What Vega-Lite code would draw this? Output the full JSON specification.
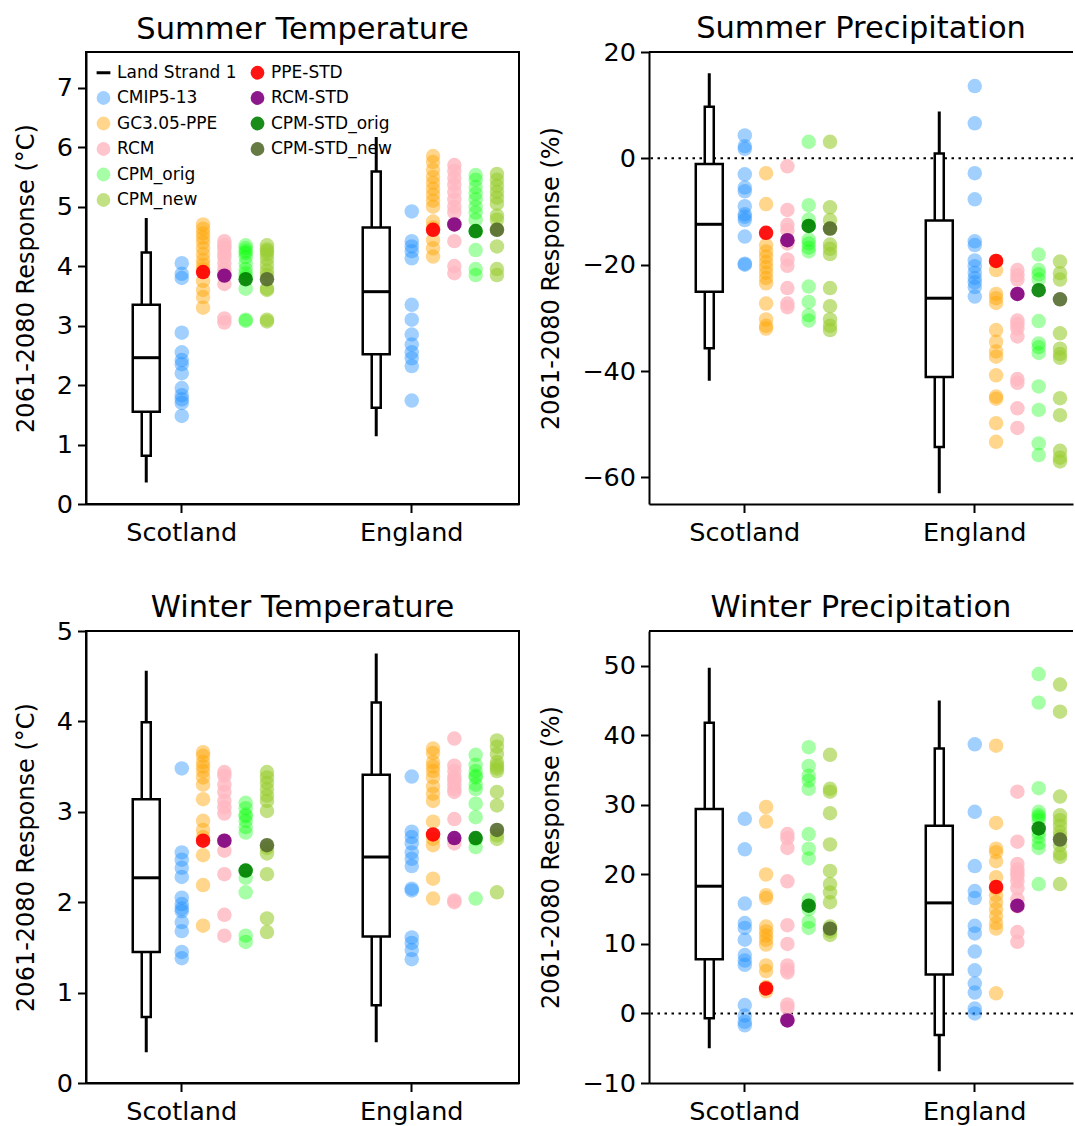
{
"$schema": "https://vega.github.io/schema/vega-lite/v6.json",
"padding": {"left": 13, "top": 13, "right": 0, "bottom": 0},
"datasets": {
"box": [
{"p":"ST","r":"Scotland","c":"Land Strand 1","lo":0.36,"p10":0.81,"q1":1.55,"med":2.46,"q3":3.35,"p90":4.23,"hi":4.81},
{"p":"ST","r":"England","c":"Land Strand 1","lo":1.14,"p10":1.62,"q1":2.52,"med":3.57,"q3":4.65,"p90":5.59,"hi":6.17},
{"p":"SP","r":"Scotland","c":"Land Strand 1","lo":-41.8,"p10":-35.7,"q1":-25.1,"med":-12.4,"q3":-1.07,"p90":9.7,"hi":16.0},
{"p":"SP","r":"England","c":"Land Strand 1","lo":-63.0,"p10":-54.3,"q1":-41.1,"med":-26.3,"q3":-11.7,"p90":0.9,"hi":8.8},
{"p":"WT","r":"Scotland","c":"Land Strand 1","lo":0.34,"p10":0.73,"q1":1.45,"med":2.27,"q3":3.14,"p90":3.99,"hi":4.56},
{"p":"WT","r":"England","c":"Land Strand 1","lo":0.45,"p10":0.86,"q1":1.62,"med":2.50,"q3":3.41,"p90":4.21,"hi":4.75},
{"p":"WP","r":"Scotland","c":"Land Strand 1","lo":-5.0,"p10":-0.7,"q1":7.8,"med":18.3,"q3":29.4,"p90":41.8,"hi":49.7},
{"p":"WP","r":"England","c":"Land Strand 1","lo":-8.3,"p10":-3.1,"q1":5.6,"med":15.9,"q3":27.0,"p90":38.1,"hi":45.0}
],
"pts": [
{"p":"ST","r":"Scotland","s":"CMIP5-13","c":"CMIP5-13","v":4.05},
{"p":"ST","r":"Scotland","s":"CMIP5-13","c":"CMIP5-13","v":3.87},
{"p":"ST","r":"Scotland","s":"CMIP5-13","c":"CMIP5-13","v":3.80},
{"p":"ST","r":"Scotland","s":"CMIP5-13","c":"CMIP5-13","v":2.88},
{"p":"ST","r":"Scotland","s":"CMIP5-13","c":"CMIP5-13","v":2.55},
{"p":"ST","r":"Scotland","s":"CMIP5-13","c":"CMIP5-13","v":2.42},
{"p":"ST","r":"Scotland","s":"CMIP5-13","c":"CMIP5-13","v":2.35},
{"p":"ST","r":"Scotland","s":"CMIP5-13","c":"CMIP5-13","v":2.20},
{"p":"ST","r":"Scotland","s":"CMIP5-13","c":"CMIP5-13","v":1.95},
{"p":"ST","r":"Scotland","s":"CMIP5-13","c":"CMIP5-13","v":1.83},
{"p":"ST","r":"Scotland","s":"CMIP5-13","c":"CMIP5-13","v":1.76},
{"p":"ST","r":"Scotland","s":"CMIP5-13","c":"CMIP5-13","v":1.70},
{"p":"ST","r":"Scotland","s":"CMIP5-13","c":"CMIP5-13","v":1.48},
{"p":"ST","r":"Scotland","s":"GC3.05-PPE","c":"GC3.05-PPE","v":4.70},
{"p":"ST","r":"Scotland","s":"GC3.05-PPE","c":"GC3.05-PPE","v":4.63},
{"p":"ST","r":"Scotland","s":"GC3.05-PPE","c":"GC3.05-PPE","v":4.55},
{"p":"ST","r":"Scotland","s":"GC3.05-PPE","c":"GC3.05-PPE","v":4.48},
{"p":"ST","r":"Scotland","s":"GC3.05-PPE","c":"GC3.05-PPE","v":4.40},
{"p":"ST","r":"Scotland","s":"GC3.05-PPE","c":"GC3.05-PPE","v":4.30},
{"p":"ST","r":"Scotland","s":"GC3.05-PPE","c":"GC3.05-PPE","v":4.20},
{"p":"ST","r":"Scotland","s":"GC3.05-PPE","c":"GC3.05-PPE","v":4.10},
{"p":"ST","r":"Scotland","s":"GC3.05-PPE","c":"GC3.05-PPE","v":4.02},
{"p":"ST","r":"Scotland","s":"GC3.05-PPE","c":"GC3.05-PPE","v":3.95},
{"p":"ST","r":"Scotland","s":"GC3.05-PPE","c":"GC3.05-PPE","v":3.75},
{"p":"ST","r":"Scotland","s":"GC3.05-PPE","c":"GC3.05-PPE","v":3.60},
{"p":"ST","r":"Scotland","s":"GC3.05-PPE","c":"GC3.05-PPE","v":3.48},
{"p":"ST","r":"Scotland","s":"GC3.05-PPE","c":"GC3.05-PPE","v":3.30},
{"p":"ST","r":"Scotland","s":"RCM","c":"RCM","v":4.42},
{"p":"ST","r":"Scotland","s":"RCM","c":"RCM","v":4.35},
{"p":"ST","r":"Scotland","s":"RCM","c":"RCM","v":4.30},
{"p":"ST","r":"Scotland","s":"RCM","c":"RCM","v":4.22},
{"p":"ST","r":"Scotland","s":"RCM","c":"RCM","v":4.15},
{"p":"ST","r":"Scotland","s":"RCM","c":"RCM","v":4.05},
{"p":"ST","r":"Scotland","s":"RCM","c":"RCM","v":3.95},
{"p":"ST","r":"Scotland","s":"RCM","c":"RCM","v":3.88},
{"p":"ST","r":"Scotland","s":"RCM","c":"RCM","v":3.84},
{"p":"ST","r":"Scotland","s":"RCM","c":"RCM","v":3.70},
{"p":"ST","r":"Scotland","s":"RCM","c":"RCM","v":3.12},
{"p":"ST","r":"Scotland","s":"RCM","c":"RCM","v":3.05},
{"p":"ST","r":"Scotland","s":"CPM_orig","c":"CPM_orig","v":4.35},
{"p":"ST","r":"Scotland","s":"CPM_orig","c":"CPM_orig","v":4.30},
{"p":"ST","r":"Scotland","s":"CPM_orig","c":"CPM_orig","v":4.25},
{"p":"ST","r":"Scotland","s":"CPM_orig","c":"CPM_orig","v":4.22},
{"p":"ST","r":"Scotland","s":"CPM_orig","c":"CPM_orig","v":4.15},
{"p":"ST","r":"Scotland","s":"CPM_orig","c":"CPM_orig","v":4.05},
{"p":"ST","r":"Scotland","s":"CPM_orig","c":"CPM_orig","v":3.95},
{"p":"ST","r":"Scotland","s":"CPM_orig","c":"CPM_orig","v":3.88},
{"p":"ST","r":"Scotland","s":"CPM_orig","c":"CPM_orig","v":3.82},
{"p":"ST","r":"Scotland","s":"CPM_orig","c":"CPM_orig","v":3.62},
{"p":"ST","r":"Scotland","s":"CPM_orig","c":"CPM_orig","v":3.10},
{"p":"ST","r":"Scotland","s":"CPM_orig","c":"CPM_orig","v":3.08},
{"p":"ST","r":"Scotland","s":"CPM_new","c":"CPM_new","v":4.35},
{"p":"ST","r":"Scotland","s":"CPM_new","c":"CPM_new","v":4.28},
{"p":"ST","r":"Scotland","s":"CPM_new","c":"CPM_new","v":4.25},
{"p":"ST","r":"Scotland","s":"CPM_new","c":"CPM_new","v":4.20},
{"p":"ST","r":"Scotland","s":"CPM_new","c":"CPM_new","v":4.12},
{"p":"ST","r":"Scotland","s":"CPM_new","c":"CPM_new","v":4.02},
{"p":"ST","r":"Scotland","s":"CPM_new","c":"CPM_new","v":3.92},
{"p":"ST","r":"Scotland","s":"CPM_new","c":"CPM_new","v":3.85},
{"p":"ST","r":"Scotland","s":"CPM_new","c":"CPM_new","v":3.62},
{"p":"ST","r":"Scotland","s":"CPM_new","c":"CPM_new","v":3.60},
{"p":"ST","r":"Scotland","s":"CPM_new","c":"CPM_new","v":3.10},
{"p":"ST","r":"Scotland","s":"CPM_new","c":"CPM_new","v":3.07},
{"p":"ST","r":"England","s":"CMIP5-13","c":"CMIP5-13","v":4.92},
{"p":"ST","r":"England","s":"CMIP5-13","c":"CMIP5-13","v":4.42},
{"p":"ST","r":"England","s":"CMIP5-13","c":"CMIP5-13","v":4.33},
{"p":"ST","r":"England","s":"CMIP5-13","c":"CMIP5-13","v":4.25},
{"p":"ST","r":"England","s":"CMIP5-13","c":"CMIP5-13","v":4.13},
{"p":"ST","r":"England","s":"CMIP5-13","c":"CMIP5-13","v":3.35},
{"p":"ST","r":"England","s":"CMIP5-13","c":"CMIP5-13","v":3.10},
{"p":"ST","r":"England","s":"CMIP5-13","c":"CMIP5-13","v":2.85},
{"p":"ST","r":"England","s":"CMIP5-13","c":"CMIP5-13","v":2.68},
{"p":"ST","r":"England","s":"CMIP5-13","c":"CMIP5-13","v":2.55},
{"p":"ST","r":"England","s":"CMIP5-13","c":"CMIP5-13","v":2.45},
{"p":"ST","r":"England","s":"CMIP5-13","c":"CMIP5-13","v":2.32},
{"p":"ST","r":"England","s":"CMIP5-13","c":"CMIP5-13","v":1.74},
{"p":"ST","r":"England","s":"GC3.05-PPE","c":"GC3.05-PPE","v":5.85},
{"p":"ST","r":"England","s":"GC3.05-PPE","c":"GC3.05-PPE","v":5.75},
{"p":"ST","r":"England","s":"GC3.05-PPE","c":"GC3.05-PPE","v":5.62},
{"p":"ST","r":"England","s":"GC3.05-PPE","c":"GC3.05-PPE","v":5.50},
{"p":"ST","r":"England","s":"GC3.05-PPE","c":"GC3.05-PPE","v":5.40},
{"p":"ST","r":"England","s":"GC3.05-PPE","c":"GC3.05-PPE","v":5.30},
{"p":"ST","r":"England","s":"GC3.05-PPE","c":"GC3.05-PPE","v":5.20},
{"p":"ST","r":"England","s":"GC3.05-PPE","c":"GC3.05-PPE","v":5.10},
{"p":"ST","r":"England","s":"GC3.05-PPE","c":"GC3.05-PPE","v":5.00},
{"p":"ST","r":"England","s":"GC3.05-PPE","c":"GC3.05-PPE","v":4.75},
{"p":"ST","r":"England","s":"GC3.05-PPE","c":"GC3.05-PPE","v":4.65},
{"p":"ST","r":"England","s":"GC3.05-PPE","c":"GC3.05-PPE","v":4.44},
{"p":"ST","r":"England","s":"GC3.05-PPE","c":"GC3.05-PPE","v":4.30},
{"p":"ST","r":"England","s":"GC3.05-PPE","c":"GC3.05-PPE","v":4.16},
{"p":"ST","r":"England","s":"RCM","c":"RCM","v":5.70},
{"p":"ST","r":"England","s":"RCM","c":"RCM","v":5.60},
{"p":"ST","r":"England","s":"RCM","c":"RCM","v":5.48},
{"p":"ST","r":"England","s":"RCM","c":"RCM","v":5.37},
{"p":"ST","r":"England","s":"RCM","c":"RCM","v":5.25},
{"p":"ST","r":"England","s":"RCM","c":"RCM","v":5.12},
{"p":"ST","r":"England","s":"RCM","c":"RCM","v":5.00},
{"p":"ST","r":"England","s":"RCM","c":"RCM","v":4.90},
{"p":"ST","r":"England","s":"RCM","c":"RCM","v":4.70},
{"p":"ST","r":"England","s":"RCM","c":"RCM","v":4.42},
{"p":"ST","r":"England","s":"RCM","c":"RCM","v":4.00},
{"p":"ST","r":"England","s":"RCM","c":"RCM","v":3.88},
{"p":"ST","r":"England","s":"CPM_orig","c":"CPM_orig","v":5.53},
{"p":"ST","r":"England","s":"CPM_orig","c":"CPM_orig","v":5.45},
{"p":"ST","r":"England","s":"CPM_orig","c":"CPM_orig","v":5.33},
{"p":"ST","r":"England","s":"CPM_orig","c":"CPM_orig","v":5.22},
{"p":"ST","r":"England","s":"CPM_orig","c":"CPM_orig","v":5.12},
{"p":"ST","r":"England","s":"CPM_orig","c":"CPM_orig","v":5.00},
{"p":"ST","r":"England","s":"CPM_orig","c":"CPM_orig","v":4.90},
{"p":"ST","r":"England","s":"CPM_orig","c":"CPM_orig","v":4.78},
{"p":"ST","r":"England","s":"CPM_orig","c":"CPM_orig","v":4.58},
{"p":"ST","r":"England","s":"CPM_orig","c":"CPM_orig","v":4.27},
{"p":"ST","r":"England","s":"CPM_orig","c":"CPM_orig","v":3.95},
{"p":"ST","r":"England","s":"CPM_orig","c":"CPM_orig","v":3.85},
{"p":"ST","r":"England","s":"CPM_new","c":"CPM_new","v":5.55},
{"p":"ST","r":"England","s":"CPM_new","c":"CPM_new","v":5.45},
{"p":"ST","r":"England","s":"CPM_new","c":"CPM_new","v":5.35},
{"p":"ST","r":"England","s":"CPM_new","c":"CPM_new","v":5.25},
{"p":"ST","r":"England","s":"CPM_new","c":"CPM_new","v":5.15},
{"p":"ST","r":"England","s":"CPM_new","c":"CPM_new","v":5.05},
{"p":"ST","r":"England","s":"CPM_new","c":"CPM_new","v":4.85},
{"p":"ST","r":"England","s":"CPM_new","c":"CPM_new","v":4.78},
{"p":"ST","r":"England","s":"CPM_new","c":"CPM_new","v":4.62},
{"p":"ST","r":"England","s":"CPM_new","c":"CPM_new","v":4.33},
{"p":"ST","r":"England","s":"CPM_new","c":"CPM_new","v":3.95},
{"p":"ST","r":"England","s":"CPM_new","c":"CPM_new","v":3.85},
{"p":"SP","r":"Scotland","s":"CMIP5-13","c":"CMIP5-13","v":4.3},
{"p":"SP","r":"Scotland","s":"CMIP5-13","c":"CMIP5-13","v":2.3},
{"p":"SP","r":"Scotland","s":"CMIP5-13","c":"CMIP5-13","v":1.8},
{"p":"SP","r":"Scotland","s":"CMIP5-13","c":"CMIP5-13","v":-3.0},
{"p":"SP","r":"Scotland","s":"CMIP5-13","c":"CMIP5-13","v":-5.5},
{"p":"SP","r":"Scotland","s":"CMIP5-13","c":"CMIP5-13","v":-6.2},
{"p":"SP","r":"Scotland","s":"CMIP5-13","c":"CMIP5-13","v":-9.0},
{"p":"SP","r":"Scotland","s":"CMIP5-13","c":"CMIP5-13","v":-10.5},
{"p":"SP","r":"Scotland","s":"CMIP5-13","c":"CMIP5-13","v":-11.0},
{"p":"SP","r":"Scotland","s":"CMIP5-13","c":"CMIP5-13","v":-11.6},
{"p":"SP","r":"Scotland","s":"CMIP5-13","c":"CMIP5-13","v":-14.7},
{"p":"SP","r":"Scotland","s":"CMIP5-13","c":"CMIP5-13","v":-19.8},
{"p":"SP","r":"Scotland","s":"CMIP5-13","c":"CMIP5-13","v":-20.0},
{"p":"SP","r":"Scotland","s":"GC3.05-PPE","c":"GC3.05-PPE","v":-2.8},
{"p":"SP","r":"Scotland","s":"GC3.05-PPE","c":"GC3.05-PPE","v":-8.6},
{"p":"SP","r":"Scotland","s":"GC3.05-PPE","c":"GC3.05-PPE","v":-16.3},
{"p":"SP","r":"Scotland","s":"GC3.05-PPE","c":"GC3.05-PPE","v":-17.5},
{"p":"SP","r":"Scotland","s":"GC3.05-PPE","c":"GC3.05-PPE","v":-18.5},
{"p":"SP","r":"Scotland","s":"GC3.05-PPE","c":"GC3.05-PPE","v":-19.5},
{"p":"SP","r":"Scotland","s":"GC3.05-PPE","c":"GC3.05-PPE","v":-20.5},
{"p":"SP","r":"Scotland","s":"GC3.05-PPE","c":"GC3.05-PPE","v":-21.5},
{"p":"SP","r":"Scotland","s":"GC3.05-PPE","c":"GC3.05-PPE","v":-22.5},
{"p":"SP","r":"Scotland","s":"GC3.05-PPE","c":"GC3.05-PPE","v":-23.5},
{"p":"SP","r":"Scotland","s":"GC3.05-PPE","c":"GC3.05-PPE","v":-27.3},
{"p":"SP","r":"Scotland","s":"GC3.05-PPE","c":"GC3.05-PPE","v":-30.3},
{"p":"SP","r":"Scotland","s":"GC3.05-PPE","c":"GC3.05-PPE","v":-31.5},
{"p":"SP","r":"Scotland","s":"GC3.05-PPE","c":"GC3.05-PPE","v":-32.0},
{"p":"SP","r":"Scotland","s":"RCM","c":"RCM","v":-1.5},
{"p":"SP","r":"Scotland","s":"RCM","c":"RCM","v":-9.7},
{"p":"SP","r":"Scotland","s":"RCM","c":"RCM","v":-12.5},
{"p":"SP","r":"Scotland","s":"RCM","c":"RCM","v":-13.5},
{"p":"SP","r":"Scotland","s":"RCM","c":"RCM","v":-15.4},
{"p":"SP","r":"Scotland","s":"RCM","c":"RCM","v":-16.0},
{"p":"SP","r":"Scotland","s":"RCM","c":"RCM","v":-19.0},
{"p":"SP","r":"Scotland","s":"RCM","c":"RCM","v":-20.2},
{"p":"SP","r":"Scotland","s":"RCM","c":"RCM","v":-24.4},
{"p":"SP","r":"Scotland","s":"RCM","c":"RCM","v":-27.3},
{"p":"SP","r":"Scotland","s":"RCM","c":"RCM","v":-28.0},
{"p":"SP","r":"Scotland","s":"CPM_orig","c":"CPM_orig","v":3.1},
{"p":"SP","r":"Scotland","s":"CPM_orig","c":"CPM_orig","v":-8.8},
{"p":"SP","r":"Scotland","s":"CPM_orig","c":"CPM_orig","v":-11.5},
{"p":"SP","r":"Scotland","s":"CPM_orig","c":"CPM_orig","v":-12.7},
{"p":"SP","r":"Scotland","s":"CPM_orig","c":"CPM_orig","v":-15.3},
{"p":"SP","r":"Scotland","s":"CPM_orig","c":"CPM_orig","v":-16.0},
{"p":"SP","r":"Scotland","s":"CPM_orig","c":"CPM_orig","v":-16.8},
{"p":"SP","r":"Scotland","s":"CPM_orig","c":"CPM_orig","v":-17.5},
{"p":"SP","r":"Scotland","s":"CPM_orig","c":"CPM_orig","v":-24.1},
{"p":"SP","r":"Scotland","s":"CPM_orig","c":"CPM_orig","v":-27.0},
{"p":"SP","r":"Scotland","s":"CPM_orig","c":"CPM_orig","v":-29.5},
{"p":"SP","r":"Scotland","s":"CPM_orig","c":"CPM_orig","v":-30.5},
{"p":"SP","r":"Scotland","s":"CPM_new","c":"CPM_new","v":3.1},
{"p":"SP","r":"Scotland","s":"CPM_new","c":"CPM_new","v":-9.2},
{"p":"SP","r":"Scotland","s":"CPM_new","c":"CPM_new","v":-11.6},
{"p":"SP","r":"Scotland","s":"CPM_new","c":"CPM_new","v":-13.2},
{"p":"SP","r":"Scotland","s":"CPM_new","c":"CPM_new","v":-16.2},
{"p":"SP","r":"Scotland","s":"CPM_new","c":"CPM_new","v":-17.0},
{"p":"SP","r":"Scotland","s":"CPM_new","c":"CPM_new","v":-18.0},
{"p":"SP","r":"Scotland","s":"CPM_new","c":"CPM_new","v":-24.4},
{"p":"SP","r":"Scotland","s":"CPM_new","c":"CPM_new","v":-27.8},
{"p":"SP","r":"Scotland","s":"CPM_new","c":"CPM_new","v":-30.3},
{"p":"SP","r":"Scotland","s":"CPM_new","c":"CPM_new","v":-31.5},
{"p":"SP","r":"Scotland","s":"CPM_new","c":"CPM_new","v":-32.3},
{"p":"SP","r":"England","s":"CMIP5-13","c":"CMIP5-13","v":13.6},
{"p":"SP","r":"England","s":"CMIP5-13","c":"CMIP5-13","v":6.6},
{"p":"SP","r":"England","s":"CMIP5-13","c":"CMIP5-13","v":-2.8},
{"p":"SP","r":"England","s":"CMIP5-13","c":"CMIP5-13","v":-7.7},
{"p":"SP","r":"England","s":"CMIP5-13","c":"CMIP5-13","v":-15.6},
{"p":"SP","r":"England","s":"CMIP5-13","c":"CMIP5-13","v":-16.3},
{"p":"SP","r":"England","s":"CMIP5-13","c":"CMIP5-13","v":-19.2},
{"p":"SP","r":"England","s":"CMIP5-13","c":"CMIP5-13","v":-20.3},
{"p":"SP","r":"England","s":"CMIP5-13","c":"CMIP5-13","v":-21.5},
{"p":"SP","r":"England","s":"CMIP5-13","c":"CMIP5-13","v":-22.5},
{"p":"SP","r":"England","s":"CMIP5-13","c":"CMIP5-13","v":-23.3},
{"p":"SP","r":"England","s":"CMIP5-13","c":"CMIP5-13","v":-24.2},
{"p":"SP","r":"England","s":"CMIP5-13","c":"CMIP5-13","v":-26.0},
{"p":"SP","r":"England","s":"GC3.05-PPE","c":"GC3.05-PPE","v":-19.3},
{"p":"SP","r":"England","s":"GC3.05-PPE","c":"GC3.05-PPE","v":-21.0},
{"p":"SP","r":"England","s":"GC3.05-PPE","c":"GC3.05-PPE","v":-25.5},
{"p":"SP","r":"England","s":"GC3.05-PPE","c":"GC3.05-PPE","v":-26.3},
{"p":"SP","r":"England","s":"GC3.05-PPE","c":"GC3.05-PPE","v":-27.2},
{"p":"SP","r":"England","s":"GC3.05-PPE","c":"GC3.05-PPE","v":-32.3},
{"p":"SP","r":"England","s":"GC3.05-PPE","c":"GC3.05-PPE","v":-34.5},
{"p":"SP","r":"England","s":"GC3.05-PPE","c":"GC3.05-PPE","v":-36.3},
{"p":"SP","r":"England","s":"GC3.05-PPE","c":"GC3.05-PPE","v":-37.3},
{"p":"SP","r":"England","s":"GC3.05-PPE","c":"GC3.05-PPE","v":-40.8},
{"p":"SP","r":"England","s":"GC3.05-PPE","c":"GC3.05-PPE","v":-44.8},
{"p":"SP","r":"England","s":"GC3.05-PPE","c":"GC3.05-PPE","v":-45.2},
{"p":"SP","r":"England","s":"GC3.05-PPE","c":"GC3.05-PPE","v":-49.8},
{"p":"SP","r":"England","s":"GC3.05-PPE","c":"GC3.05-PPE","v":-53.3},
{"p":"SP","r":"England","s":"RCM","c":"RCM","v":-21.0},
{"p":"SP","r":"England","s":"RCM","c":"RCM","v":-22.0},
{"p":"SP","r":"England","s":"RCM","c":"RCM","v":-22.8},
{"p":"SP","r":"England","s":"RCM","c":"RCM","v":-25.5},
{"p":"SP","r":"England","s":"RCM","c":"RCM","v":-30.5},
{"p":"SP","r":"England","s":"RCM","c":"RCM","v":-31.2},
{"p":"SP","r":"England","s":"RCM","c":"RCM","v":-32.0},
{"p":"SP","r":"England","s":"RCM","c":"RCM","v":-33.5},
{"p":"SP","r":"England","s":"RCM","c":"RCM","v":-41.5},
{"p":"SP","r":"England","s":"RCM","c":"RCM","v":-42.2},
{"p":"SP","r":"England","s":"RCM","c":"RCM","v":-47.0},
{"p":"SP","r":"England","s":"RCM","c":"RCM","v":-50.7},
{"p":"SP","r":"England","s":"CPM_orig","c":"CPM_orig","v":-18.1},
{"p":"SP","r":"England","s":"CPM_orig","c":"CPM_orig","v":-21.0},
{"p":"SP","r":"England","s":"CPM_orig","c":"CPM_orig","v":-21.8},
{"p":"SP","r":"England","s":"CPM_orig","c":"CPM_orig","v":-22.8},
{"p":"SP","r":"England","s":"CPM_orig","c":"CPM_orig","v":-30.6},
{"p":"SP","r":"England","s":"CPM_orig","c":"CPM_orig","v":-34.8},
{"p":"SP","r":"England","s":"CPM_orig","c":"CPM_orig","v":-35.5},
{"p":"SP","r":"England","s":"CPM_orig","c":"CPM_orig","v":-36.6},
{"p":"SP","r":"England","s":"CPM_orig","c":"CPM_orig","v":-42.9},
{"p":"SP","r":"England","s":"CPM_orig","c":"CPM_orig","v":-47.3},
{"p":"SP","r":"England","s":"CPM_orig","c":"CPM_orig","v":-53.6},
{"p":"SP","r":"England","s":"CPM_orig","c":"CPM_orig","v":-55.8},
{"p":"SP","r":"England","s":"CPM_new","c":"CPM_new","v":-19.4},
{"p":"SP","r":"England","s":"CPM_new","c":"CPM_new","v":-21.6},
{"p":"SP","r":"England","s":"CPM_new","c":"CPM_new","v":-22.8},
{"p":"SP","r":"England","s":"CPM_new","c":"CPM_new","v":-32.9},
{"p":"SP","r":"England","s":"CPM_new","c":"CPM_new","v":-35.8},
{"p":"SP","r":"England","s":"CPM_new","c":"CPM_new","v":-36.8},
{"p":"SP","r":"England","s":"CPM_new","c":"CPM_new","v":-37.5},
{"p":"SP","r":"England","s":"CPM_new","c":"CPM_new","v":-45.1},
{"p":"SP","r":"England","s":"CPM_new","c":"CPM_new","v":-48.3},
{"p":"SP","r":"England","s":"CPM_new","c":"CPM_new","v":-55.0},
{"p":"SP","r":"England","s":"CPM_new","c":"CPM_new","v":-56.3},
{"p":"SP","r":"England","s":"CPM_new","c":"CPM_new","v":-57.0},
{"p":"WT","r":"Scotland","s":"CMIP5-13","c":"CMIP5-13","v":3.48},
{"p":"WT","r":"Scotland","s":"CMIP5-13","c":"CMIP5-13","v":2.55},
{"p":"WT","r":"Scotland","s":"CMIP5-13","c":"CMIP5-13","v":2.47},
{"p":"WT","r":"Scotland","s":"CMIP5-13","c":"CMIP5-13","v":2.38},
{"p":"WT","r":"Scotland","s":"CMIP5-13","c":"CMIP5-13","v":2.28},
{"p":"WT","r":"Scotland","s":"CMIP5-13","c":"CMIP5-13","v":2.05},
{"p":"WT","r":"Scotland","s":"CMIP5-13","c":"CMIP5-13","v":1.98},
{"p":"WT","r":"Scotland","s":"CMIP5-13","c":"CMIP5-13","v":1.93},
{"p":"WT","r":"Scotland","s":"CMIP5-13","c":"CMIP5-13","v":1.90},
{"p":"WT","r":"Scotland","s":"CMIP5-13","c":"CMIP5-13","v":1.78},
{"p":"WT","r":"Scotland","s":"CMIP5-13","c":"CMIP5-13","v":1.68},
{"p":"WT","r":"Scotland","s":"CMIP5-13","c":"CMIP5-13","v":1.45},
{"p":"WT","r":"Scotland","s":"CMIP5-13","c":"CMIP5-13","v":1.38},
{"p":"WT","r":"Scotland","s":"GC3.05-PPE","c":"GC3.05-PPE","v":3.66},
{"p":"WT","r":"Scotland","s":"GC3.05-PPE","c":"GC3.05-PPE","v":3.62},
{"p":"WT","r":"Scotland","s":"GC3.05-PPE","c":"GC3.05-PPE","v":3.55},
{"p":"WT","r":"Scotland","s":"GC3.05-PPE","c":"GC3.05-PPE","v":3.50},
{"p":"WT","r":"Scotland","s":"GC3.05-PPE","c":"GC3.05-PPE","v":3.45},
{"p":"WT","r":"Scotland","s":"GC3.05-PPE","c":"GC3.05-PPE","v":3.38},
{"p":"WT","r":"Scotland","s":"GC3.05-PPE","c":"GC3.05-PPE","v":3.30},
{"p":"WT","r":"Scotland","s":"GC3.05-PPE","c":"GC3.05-PPE","v":3.14},
{"p":"WT","r":"Scotland","s":"GC3.05-PPE","c":"GC3.05-PPE","v":2.90},
{"p":"WT","r":"Scotland","s":"GC3.05-PPE","c":"GC3.05-PPE","v":2.80},
{"p":"WT","r":"Scotland","s":"GC3.05-PPE","c":"GC3.05-PPE","v":2.72},
{"p":"WT","r":"Scotland","s":"GC3.05-PPE","c":"GC3.05-PPE","v":2.52},
{"p":"WT","r":"Scotland","s":"GC3.05-PPE","c":"GC3.05-PPE","v":2.19},
{"p":"WT","r":"Scotland","s":"GC3.05-PPE","c":"GC3.05-PPE","v":1.74},
{"p":"WT","r":"Scotland","s":"RCM","c":"RCM","v":3.44},
{"p":"WT","r":"Scotland","s":"RCM","c":"RCM","v":3.40},
{"p":"WT","r":"Scotland","s":"RCM","c":"RCM","v":3.30},
{"p":"WT","r":"Scotland","s":"RCM","c":"RCM","v":3.22},
{"p":"WT","r":"Scotland","s":"RCM","c":"RCM","v":3.12},
{"p":"WT","r":"Scotland","s":"RCM","c":"RCM","v":3.05},
{"p":"WT","r":"Scotland","s":"RCM","c":"RCM","v":2.98},
{"p":"WT","r":"Scotland","s":"RCM","c":"RCM","v":2.68},
{"p":"WT","r":"Scotland","s":"RCM","c":"RCM","v":2.57},
{"p":"WT","r":"Scotland","s":"RCM","c":"RCM","v":2.31},
{"p":"WT","r":"Scotland","s":"RCM","c":"RCM","v":1.86},
{"p":"WT","r":"Scotland","s":"RCM","c":"RCM","v":1.63},
{"p":"WT","r":"Scotland","s":"CPM_orig","c":"CPM_orig","v":3.10},
{"p":"WT","r":"Scotland","s":"CPM_orig","c":"CPM_orig","v":3.04},
{"p":"WT","r":"Scotland","s":"CPM_orig","c":"CPM_orig","v":2.97},
{"p":"WT","r":"Scotland","s":"CPM_orig","c":"CPM_orig","v":2.95},
{"p":"WT","r":"Scotland","s":"CPM_orig","c":"CPM_orig","v":2.90},
{"p":"WT","r":"Scotland","s":"CPM_orig","c":"CPM_orig","v":2.83},
{"p":"WT","r":"Scotland","s":"CPM_orig","c":"CPM_orig","v":2.77},
{"p":"WT","r":"Scotland","s":"CPM_orig","c":"CPM_orig","v":2.35},
{"p":"WT","r":"Scotland","s":"CPM_orig","c":"CPM_orig","v":2.27},
{"p":"WT","r":"Scotland","s":"CPM_orig","c":"CPM_orig","v":2.11},
{"p":"WT","r":"Scotland","s":"CPM_orig","c":"CPM_orig","v":1.63},
{"p":"WT","r":"Scotland","s":"CPM_orig","c":"CPM_orig","v":1.56},
{"p":"WT","r":"Scotland","s":"CPM_new","c":"CPM_new","v":3.44},
{"p":"WT","r":"Scotland","s":"CPM_new","c":"CPM_new","v":3.38},
{"p":"WT","r":"Scotland","s":"CPM_new","c":"CPM_new","v":3.32},
{"p":"WT","r":"Scotland","s":"CPM_new","c":"CPM_new","v":3.25},
{"p":"WT","r":"Scotland","s":"CPM_new","c":"CPM_new","v":3.18},
{"p":"WT","r":"Scotland","s":"CPM_new","c":"CPM_new","v":3.12},
{"p":"WT","r":"Scotland","s":"CPM_new","c":"CPM_new","v":3.01},
{"p":"WT","r":"Scotland","s":"CPM_new","c":"CPM_new","v":2.60},
{"p":"WT","r":"Scotland","s":"CPM_new","c":"CPM_new","v":2.54},
{"p":"WT","r":"Scotland","s":"CPM_new","c":"CPM_new","v":2.31},
{"p":"WT","r":"Scotland","s":"CPM_new","c":"CPM_new","v":1.82},
{"p":"WT","r":"Scotland","s":"CPM_new","c":"CPM_new","v":1.67},
{"p":"WT","r":"England","s":"CMIP5-13","c":"CMIP5-13","v":3.39},
{"p":"WT","r":"England","s":"CMIP5-13","c":"CMIP5-13","v":2.78},
{"p":"WT","r":"England","s":"CMIP5-13","c":"CMIP5-13","v":2.72},
{"p":"WT","r":"England","s":"CMIP5-13","c":"CMIP5-13","v":2.65},
{"p":"WT","r":"England","s":"CMIP5-13","c":"CMIP5-13","v":2.55},
{"p":"WT","r":"England","s":"CMIP5-13","c":"CMIP5-13","v":2.48},
{"p":"WT","r":"England","s":"CMIP5-13","c":"CMIP5-13","v":2.40},
{"p":"WT","r":"England","s":"CMIP5-13","c":"CMIP5-13","v":2.15},
{"p":"WT","r":"England","s":"CMIP5-13","c":"CMIP5-13","v":2.13},
{"p":"WT","r":"England","s":"CMIP5-13","c":"CMIP5-13","v":1.61},
{"p":"WT","r":"England","s":"CMIP5-13","c":"CMIP5-13","v":1.55},
{"p":"WT","r":"England","s":"CMIP5-13","c":"CMIP5-13","v":1.47},
{"p":"WT","r":"England","s":"CMIP5-13","c":"CMIP5-13","v":1.37},
{"p":"WT","r":"England","s":"GC3.05-PPE","c":"GC3.05-PPE","v":3.70},
{"p":"WT","r":"England","s":"GC3.05-PPE","c":"GC3.05-PPE","v":3.65},
{"p":"WT","r":"England","s":"GC3.05-PPE","c":"GC3.05-PPE","v":3.55},
{"p":"WT","r":"England","s":"GC3.05-PPE","c":"GC3.05-PPE","v":3.50},
{"p":"WT","r":"England","s":"GC3.05-PPE","c":"GC3.05-PPE","v":3.45},
{"p":"WT","r":"England","s":"GC3.05-PPE","c":"GC3.05-PPE","v":3.38},
{"p":"WT","r":"England","s":"GC3.05-PPE","c":"GC3.05-PPE","v":3.28},
{"p":"WT","r":"England","s":"GC3.05-PPE","c":"GC3.05-PPE","v":3.20},
{"p":"WT","r":"England","s":"GC3.05-PPE","c":"GC3.05-PPE","v":3.12},
{"p":"WT","r":"England","s":"GC3.05-PPE","c":"GC3.05-PPE","v":2.89},
{"p":"WT","r":"England","s":"GC3.05-PPE","c":"GC3.05-PPE","v":2.70},
{"p":"WT","r":"England","s":"GC3.05-PPE","c":"GC3.05-PPE","v":2.63},
{"p":"WT","r":"England","s":"GC3.05-PPE","c":"GC3.05-PPE","v":2.26},
{"p":"WT","r":"England","s":"GC3.05-PPE","c":"GC3.05-PPE","v":2.04},
{"p":"WT","r":"England","s":"RCM","c":"RCM","v":3.81},
{"p":"WT","r":"England","s":"RCM","c":"RCM","v":3.51},
{"p":"WT","r":"England","s":"RCM","c":"RCM","v":3.45},
{"p":"WT","r":"England","s":"RCM","c":"RCM","v":3.38},
{"p":"WT","r":"England","s":"RCM","c":"RCM","v":3.35},
{"p":"WT","r":"England","s":"RCM","c":"RCM","v":3.30},
{"p":"WT","r":"England","s":"RCM","c":"RCM","v":3.25},
{"p":"WT","r":"England","s":"RCM","c":"RCM","v":3.22},
{"p":"WT","r":"England","s":"RCM","c":"RCM","v":2.92},
{"p":"WT","r":"England","s":"RCM","c":"RCM","v":2.65},
{"p":"WT","r":"England","s":"RCM","c":"RCM","v":2.02},
{"p":"WT","r":"England","s":"RCM","c":"RCM","v":2.00},
{"p":"WT","r":"England","s":"CPM_orig","c":"CPM_orig","v":3.63},
{"p":"WT","r":"England","s":"CPM_orig","c":"CPM_orig","v":3.52},
{"p":"WT","r":"England","s":"CPM_orig","c":"CPM_orig","v":3.45},
{"p":"WT","r":"England","s":"CPM_orig","c":"CPM_orig","v":3.40},
{"p":"WT","r":"England","s":"CPM_orig","c":"CPM_orig","v":3.38},
{"p":"WT","r":"England","s":"CPM_orig","c":"CPM_orig","v":3.30},
{"p":"WT","r":"England","s":"CPM_orig","c":"CPM_orig","v":3.25},
{"p":"WT","r":"England","s":"CPM_orig","c":"CPM_orig","v":3.09},
{"p":"WT","r":"England","s":"CPM_orig","c":"CPM_orig","v":2.94},
{"p":"WT","r":"England","s":"CPM_orig","c":"CPM_orig","v":2.70},
{"p":"WT","r":"England","s":"CPM_orig","c":"CPM_orig","v":2.61},
{"p":"WT","r":"England","s":"CPM_orig","c":"CPM_orig","v":2.04},
{"p":"WT","r":"England","s":"CPM_new","c":"CPM_new","v":3.79},
{"p":"WT","r":"England","s":"CPM_new","c":"CPM_new","v":3.72},
{"p":"WT","r":"England","s":"CPM_new","c":"CPM_new","v":3.64},
{"p":"WT","r":"England","s":"CPM_new","c":"CPM_new","v":3.55},
{"p":"WT","r":"England","s":"CPM_new","c":"CPM_new","v":3.51},
{"p":"WT","r":"England","s":"CPM_new","c":"CPM_new","v":3.48},
{"p":"WT","r":"England","s":"CPM_new","c":"CPM_new","v":3.45},
{"p":"WT","r":"England","s":"CPM_new","c":"CPM_new","v":3.22},
{"p":"WT","r":"England","s":"CPM_new","c":"CPM_new","v":3.07},
{"p":"WT","r":"England","s":"CPM_new","c":"CPM_new","v":2.74},
{"p":"WT","r":"England","s":"CPM_new","c":"CPM_new","v":2.70},
{"p":"WT","r":"England","s":"CPM_new","c":"CPM_new","v":2.11},
{"p":"WP","r":"Scotland","s":"CMIP5-13","c":"CMIP5-13","v":28.0},
{"p":"WP","r":"Scotland","s":"CMIP5-13","c":"CMIP5-13","v":23.6},
{"p":"WP","r":"Scotland","s":"CMIP5-13","c":"CMIP5-13","v":15.8},
{"p":"WP","r":"Scotland","s":"CMIP5-13","c":"CMIP5-13","v":13.0},
{"p":"WP","r":"Scotland","s":"CMIP5-13","c":"CMIP5-13","v":12.3},
{"p":"WP","r":"Scotland","s":"CMIP5-13","c":"CMIP5-13","v":10.6},
{"p":"WP","r":"Scotland","s":"CMIP5-13","c":"CMIP5-13","v":8.4},
{"p":"WP","r":"Scotland","s":"CMIP5-13","c":"CMIP5-13","v":7.6},
{"p":"WP","r":"Scotland","s":"CMIP5-13","c":"CMIP5-13","v":7.0},
{"p":"WP","r":"Scotland","s":"CMIP5-13","c":"CMIP5-13","v":1.2},
{"p":"WP","r":"Scotland","s":"CMIP5-13","c":"CMIP5-13","v":-0.3},
{"p":"WP","r":"Scotland","s":"CMIP5-13","c":"CMIP5-13","v":-1.2},
{"p":"WP","r":"Scotland","s":"CMIP5-13","c":"CMIP5-13","v":-1.7},
{"p":"WP","r":"Scotland","s":"GC3.05-PPE","c":"GC3.05-PPE","v":29.7},
{"p":"WP","r":"Scotland","s":"GC3.05-PPE","c":"GC3.05-PPE","v":27.6},
{"p":"WP","r":"Scotland","s":"GC3.05-PPE","c":"GC3.05-PPE","v":20.0},
{"p":"WP","r":"Scotland","s":"GC3.05-PPE","c":"GC3.05-PPE","v":17.0},
{"p":"WP","r":"Scotland","s":"GC3.05-PPE","c":"GC3.05-PPE","v":16.6},
{"p":"WP","r":"Scotland","s":"GC3.05-PPE","c":"GC3.05-PPE","v":12.5},
{"p":"WP","r":"Scotland","s":"GC3.05-PPE","c":"GC3.05-PPE","v":11.8},
{"p":"WP","r":"Scotland","s":"GC3.05-PPE","c":"GC3.05-PPE","v":11.2},
{"p":"WP","r":"Scotland","s":"GC3.05-PPE","c":"GC3.05-PPE","v":10.6},
{"p":"WP","r":"Scotland","s":"GC3.05-PPE","c":"GC3.05-PPE","v":9.9},
{"p":"WP","r":"Scotland","s":"GC3.05-PPE","c":"GC3.05-PPE","v":6.9},
{"p":"WP","r":"Scotland","s":"GC3.05-PPE","c":"GC3.05-PPE","v":6.1},
{"p":"WP","r":"Scotland","s":"GC3.05-PPE","c":"GC3.05-PPE","v":3.8},
{"p":"WP","r":"Scotland","s":"GC3.05-PPE","c":"GC3.05-PPE","v":3.2},
{"p":"WP","r":"Scotland","s":"RCM","c":"RCM","v":25.8},
{"p":"WP","r":"Scotland","s":"RCM","c":"RCM","v":25.2},
{"p":"WP","r":"Scotland","s":"RCM","c":"RCM","v":23.8},
{"p":"WP","r":"Scotland","s":"RCM","c":"RCM","v":19.0},
{"p":"WP","r":"Scotland","s":"RCM","c":"RCM","v":12.7},
{"p":"WP","r":"Scotland","s":"RCM","c":"RCM","v":10.0},
{"p":"WP","r":"Scotland","s":"RCM","c":"RCM","v":6.9},
{"p":"WP","r":"Scotland","s":"RCM","c":"RCM","v":6.3},
{"p":"WP","r":"Scotland","s":"RCM","c":"RCM","v":5.9},
{"p":"WP","r":"Scotland","s":"RCM","c":"RCM","v":1.3},
{"p":"WP","r":"Scotland","s":"RCM","c":"RCM","v":0.8},
{"p":"WP","r":"Scotland","s":"RCM","c":"RCM","v":-0.9},
{"p":"WP","r":"Scotland","s":"CPM_orig","c":"CPM_orig","v":38.3},
{"p":"WP","r":"Scotland","s":"CPM_orig","c":"CPM_orig","v":35.6},
{"p":"WP","r":"Scotland","s":"CPM_orig","c":"CPM_orig","v":34.2},
{"p":"WP","r":"Scotland","s":"CPM_orig","c":"CPM_orig","v":33.5},
{"p":"WP","r":"Scotland","s":"CPM_orig","c":"CPM_orig","v":32.3},
{"p":"WP","r":"Scotland","s":"CPM_orig","c":"CPM_orig","v":25.8},
{"p":"WP","r":"Scotland","s":"CPM_orig","c":"CPM_orig","v":23.7},
{"p":"WP","r":"Scotland","s":"CPM_orig","c":"CPM_orig","v":22.3},
{"p":"WP","r":"Scotland","s":"CPM_orig","c":"CPM_orig","v":16.3},
{"p":"WP","r":"Scotland","s":"CPM_orig","c":"CPM_orig","v":15.0},
{"p":"WP","r":"Scotland","s":"CPM_orig","c":"CPM_orig","v":13.2},
{"p":"WP","r":"Scotland","s":"CPM_orig","c":"CPM_orig","v":12.3},
{"p":"WP","r":"Scotland","s":"CPM_new","c":"CPM_new","v":37.2},
{"p":"WP","r":"Scotland","s":"CPM_new","c":"CPM_new","v":32.3},
{"p":"WP","r":"Scotland","s":"CPM_new","c":"CPM_new","v":31.9},
{"p":"WP","r":"Scotland","s":"CPM_new","c":"CPM_new","v":28.8},
{"p":"WP","r":"Scotland","s":"CPM_new","c":"CPM_new","v":24.3},
{"p":"WP","r":"Scotland","s":"CPM_new","c":"CPM_new","v":20.5},
{"p":"WP","r":"Scotland","s":"CPM_new","c":"CPM_new","v":18.6},
{"p":"WP","r":"Scotland","s":"CPM_new","c":"CPM_new","v":17.4},
{"p":"WP","r":"Scotland","s":"CPM_new","c":"CPM_new","v":16.0},
{"p":"WP","r":"Scotland","s":"CPM_new","c":"CPM_new","v":12.5},
{"p":"WP","r":"Scotland","s":"CPM_new","c":"CPM_new","v":11.8},
{"p":"WP","r":"Scotland","s":"CPM_new","c":"CPM_new","v":11.3},
{"p":"WP","r":"England","s":"CMIP5-13","c":"CMIP5-13","v":38.7},
{"p":"WP","r":"England","s":"CMIP5-13","c":"CMIP5-13","v":29.0},
{"p":"WP","r":"England","s":"CMIP5-13","c":"CMIP5-13","v":21.2},
{"p":"WP","r":"England","s":"CMIP5-13","c":"CMIP5-13","v":17.6},
{"p":"WP","r":"England","s":"CMIP5-13","c":"CMIP5-13","v":16.6},
{"p":"WP","r":"England","s":"CMIP5-13","c":"CMIP5-13","v":12.6},
{"p":"WP","r":"England","s":"CMIP5-13","c":"CMIP5-13","v":11.5},
{"p":"WP","r":"England","s":"CMIP5-13","c":"CMIP5-13","v":8.9},
{"p":"WP","r":"England","s":"CMIP5-13","c":"CMIP5-13","v":6.2},
{"p":"WP","r":"England","s":"CMIP5-13","c":"CMIP5-13","v":4.3},
{"p":"WP","r":"England","s":"CMIP5-13","c":"CMIP5-13","v":3.0},
{"p":"WP","r":"England","s":"CMIP5-13","c":"CMIP5-13","v":0.7},
{"p":"WP","r":"England","s":"CMIP5-13","c":"CMIP5-13","v":0.0},
{"p":"WP","r":"England","s":"GC3.05-PPE","c":"GC3.05-PPE","v":38.5},
{"p":"WP","r":"England","s":"GC3.05-PPE","c":"GC3.05-PPE","v":27.4},
{"p":"WP","r":"England","s":"GC3.05-PPE","c":"GC3.05-PPE","v":23.7},
{"p":"WP","r":"England","s":"GC3.05-PPE","c":"GC3.05-PPE","v":23.2},
{"p":"WP","r":"England","s":"GC3.05-PPE","c":"GC3.05-PPE","v":21.9},
{"p":"WP","r":"England","s":"GC3.05-PPE","c":"GC3.05-PPE","v":19.6},
{"p":"WP","r":"England","s":"GC3.05-PPE","c":"GC3.05-PPE","v":18.0},
{"p":"WP","r":"England","s":"GC3.05-PPE","c":"GC3.05-PPE","v":17.0},
{"p":"WP","r":"England","s":"GC3.05-PPE","c":"GC3.05-PPE","v":16.0},
{"p":"WP","r":"England","s":"GC3.05-PPE","c":"GC3.05-PPE","v":15.0},
{"p":"WP","r":"England","s":"GC3.05-PPE","c":"GC3.05-PPE","v":14.0},
{"p":"WP","r":"England","s":"GC3.05-PPE","c":"GC3.05-PPE","v":13.0},
{"p":"WP","r":"England","s":"GC3.05-PPE","c":"GC3.05-PPE","v":12.2},
{"p":"WP","r":"England","s":"GC3.05-PPE","c":"GC3.05-PPE","v":2.9},
{"p":"WP","r":"England","s":"RCM","c":"RCM","v":31.9},
{"p":"WP","r":"England","s":"RCM","c":"RCM","v":24.7},
{"p":"WP","r":"England","s":"RCM","c":"RCM","v":21.5},
{"p":"WP","r":"England","s":"RCM","c":"RCM","v":20.7},
{"p":"WP","r":"England","s":"RCM","c":"RCM","v":20.2},
{"p":"WP","r":"England","s":"RCM","c":"RCM","v":19.8},
{"p":"WP","r":"England","s":"RCM","c":"RCM","v":19.0},
{"p":"WP","r":"England","s":"RCM","c":"RCM","v":18.0},
{"p":"WP","r":"England","s":"RCM","c":"RCM","v":16.4},
{"p":"WP","r":"England","s":"RCM","c":"RCM","v":15.4},
{"p":"WP","r":"England","s":"RCM","c":"RCM","v":11.7},
{"p":"WP","r":"England","s":"RCM","c":"RCM","v":10.3},
{"p":"WP","r":"England","s":"CPM_orig","c":"CPM_orig","v":48.8},
{"p":"WP","r":"England","s":"CPM_orig","c":"CPM_orig","v":44.7},
{"p":"WP","r":"England","s":"CPM_orig","c":"CPM_orig","v":32.4},
{"p":"WP","r":"England","s":"CPM_orig","c":"CPM_orig","v":29.0},
{"p":"WP","r":"England","s":"CPM_orig","c":"CPM_orig","v":28.5},
{"p":"WP","r":"England","s":"CPM_orig","c":"CPM_orig","v":28.2},
{"p":"WP","r":"England","s":"CPM_orig","c":"CPM_orig","v":27.8},
{"p":"WP","r":"England","s":"CPM_orig","c":"CPM_orig","v":26.0},
{"p":"WP","r":"England","s":"CPM_orig","c":"CPM_orig","v":25.4},
{"p":"WP","r":"England","s":"CPM_orig","c":"CPM_orig","v":24.5},
{"p":"WP","r":"England","s":"CPM_orig","c":"CPM_orig","v":23.8},
{"p":"WP","r":"England","s":"CPM_orig","c":"CPM_orig","v":18.6},
{"p":"WP","r":"England","s":"CPM_new","c":"CPM_new","v":47.3},
{"p":"WP","r":"England","s":"CPM_new","c":"CPM_new","v":43.4},
{"p":"WP","r":"England","s":"CPM_new","c":"CPM_new","v":31.2},
{"p":"WP","r":"England","s":"CPM_new","c":"CPM_new","v":28.5},
{"p":"WP","r":"England","s":"CPM_new","c":"CPM_new","v":27.8},
{"p":"WP","r":"England","s":"CPM_new","c":"CPM_new","v":27.0},
{"p":"WP","r":"England","s":"CPM_new","c":"CPM_new","v":26.1},
{"p":"WP","r":"England","s":"CPM_new","c":"CPM_new","v":25.5},
{"p":"WP","r":"England","s":"CPM_new","c":"CPM_new","v":24.2},
{"p":"WP","r":"England","s":"CPM_new","c":"CPM_new","v":23.0},
{"p":"WP","r":"England","s":"CPM_new","c":"CPM_new","v":22.5},
{"p":"WP","r":"England","s":"CPM_new","c":"CPM_new","v":18.6},
{"p":"ST","r":"Scotland","s":"PPE-STD","c":"GC3.05-PPE","v":3.90},
{"p":"ST","r":"Scotland","s":"RCM-STD","c":"RCM","v":3.84},
{"p":"ST","r":"Scotland","s":"CPM-STD_orig","c":"CPM_orig","v":3.78},
{"p":"ST","r":"Scotland","s":"CPM-STD_new","c":"CPM_new","v":3.78},
{"p":"ST","r":"England","s":"PPE-STD","c":"GC3.05-PPE","v":4.61},
{"p":"ST","r":"England","s":"RCM-STD","c":"RCM","v":4.70},
{"p":"ST","r":"England","s":"CPM-STD_orig","c":"CPM_orig","v":4.59},
{"p":"ST","r":"England","s":"CPM-STD_new","c":"CPM_new","v":4.61},
{"p":"SP","r":"Scotland","s":"PPE-STD","c":"GC3.05-PPE","v":-14.0},
{"p":"SP","r":"Scotland","s":"RCM-STD","c":"RCM","v":-15.4},
{"p":"SP","r":"Scotland","s":"CPM-STD_orig","c":"CPM_orig","v":-12.7},
{"p":"SP","r":"Scotland","s":"CPM-STD_new","c":"CPM_new","v":-13.2},
{"p":"SP","r":"England","s":"PPE-STD","c":"GC3.05-PPE","v":-19.3},
{"p":"SP","r":"England","s":"RCM-STD","c":"RCM","v":-25.5},
{"p":"SP","r":"England","s":"CPM-STD_orig","c":"CPM_orig","v":-24.8},
{"p":"SP","r":"England","s":"CPM-STD_new","c":"CPM_new","v":-26.5},
{"p":"WT","r":"Scotland","s":"PPE-STD","c":"GC3.05-PPE","v":2.68},
{"p":"WT","r":"Scotland","s":"RCM-STD","c":"RCM","v":2.68},
{"p":"WT","r":"Scotland","s":"CPM-STD_orig","c":"CPM_orig","v":2.35},
{"p":"WT","r":"Scotland","s":"CPM-STD_new","c":"CPM_new","v":2.63},
{"p":"WT","r":"England","s":"PPE-STD","c":"GC3.05-PPE","v":2.75},
{"p":"WT","r":"England","s":"RCM-STD","c":"RCM","v":2.71},
{"p":"WT","r":"England","s":"CPM-STD_orig","c":"CPM_orig","v":2.71},
{"p":"WT","r":"England","s":"CPM-STD_new","c":"CPM_new","v":2.80},
{"p":"WP","r":"Scotland","s":"PPE-STD","c":"GC3.05-PPE","v":3.6},
{"p":"WP","r":"Scotland","s":"RCM-STD","c":"RCM","v":-1.0},
{"p":"WP","r":"Scotland","s":"CPM-STD_orig","c":"CPM_orig","v":15.5},
{"p":"WP","r":"Scotland","s":"CPM-STD_new","c":"CPM_new","v":12.2},
{"p":"WP","r":"England","s":"PPE-STD","c":"GC3.05-PPE","v":18.2},
{"p":"WP","r":"England","s":"RCM-STD","c":"RCM","v":15.5},
{"p":"WP","r":"England","s":"CPM-STD_orig","c":"CPM_orig","v":26.6},
{"p":"WP","r":"England","s":"CPM-STD_new","c":"CPM_new","v":25.0}
]
},
"columns": 2,
"align": "each",
"spacing": {"row": 44, "column": 19},
"resolve": {"scale": {"x": "independent", "y": "independent", "xOffset": "independent", "color": "independent"}, "legend": {"color": "independent"}},
"concat": [
{
"width": 433, "height": 452,
"title": {"text": "Summer Temperature", "offset": 7},
"view": {"stroke": "black", "strokeWidth": 2},
"layer": [
{"data": {"name": "box"}, "transform": [{"filter": "datum.p === 'ST'"}],
 "mark": {"type": "rule", "strokeWidth": 3, "color": "black"},
 "encoding": {
  "x": {"field": "r", "type": "nominal", "title": null, "scale": {"domain": ["Scotland", "England"], "paddingInner": 0.228, "paddingOuter": 0.0554, "align": 0.2745}},
  "xOffset": {"field": "c", "type": "nominal", "scale": {"domain": ["_0","_1","_2","_3","_4","_5","_6","Land Strand 1","_8","_9","_10","_11","CMIP5-13","_13","_14","GC3.05-PPE","_16","_17","RCM","_19","_20","CPM_orig","_22","_23","CPM_new"]}},
  "y": {"field": "lo", "type": "quantitative", "scale": {"domain": [0, 7.6], "nice": false, "zero": false}, "axis": {"title": "2061-2080 Response (°C)", "values": [0,1,2,3,4,5,6,7], "format": "d"}},
  "y2": {"field": "hi"}}},
{"data": {"name": "box"}, "transform": [{"filter": "datum.p === 'ST'"}],
 "mark": {"type": "bar", "width": 9, "fill": "white", "stroke": "black", "strokeWidth": 2.5},
 "encoding": {
  "x": {"field": "r", "type": "nominal", "title": null, "scale": {"domain": ["Scotland", "England"], "paddingInner": 0.228, "paddingOuter": 0.0554, "align": 0.2745}},
  "xOffset": {"field": "c", "type": "nominal", "scale": {"domain": ["_0","_1","_2","_3","_4","_5","_6","Land Strand 1","_8","_9","_10","_11","CMIP5-13","_13","_14","GC3.05-PPE","_16","_17","RCM","_19","_20","CPM_orig","_22","_23","CPM_new"]}},
  "y": {"field": "p10", "type": "quantitative", "scale": {"domain": [0, 7.6], "nice": false, "zero": false}, "axis": {"title": "2061-2080 Response (°C)", "values": [0,1,2,3,4,5,6,7], "format": "d"}},
  "y2": {"field": "p90"}}},
{"data": {"name": "box"}, "transform": [{"filter": "datum.p === 'ST'"}],
 "mark": {"type": "bar", "width": 27, "fill": "white", "stroke": "black", "strokeWidth": 2.5},
 "encoding": {
  "x": {"field": "r", "type": "nominal", "title": null, "scale": {"domain": ["Scotland", "England"], "paddingInner": 0.228, "paddingOuter": 0.0554, "align": 0.2745}},
  "xOffset": {"field": "c", "type": "nominal", "scale": {"domain": ["_0","_1","_2","_3","_4","_5","_6","Land Strand 1","_8","_9","_10","_11","CMIP5-13","_13","_14","GC3.05-PPE","_16","_17","RCM","_19","_20","CPM_orig","_22","_23","CPM_new"]}},
  "y": {"field": "q1", "type": "quantitative", "scale": {"domain": [0, 7.6], "nice": false, "zero": false}, "axis": {"title": "2061-2080 Response (°C)", "values": [0,1,2,3,4,5,6,7], "format": "d"}},
  "y2": {"field": "q3"}}},
{"data": {"name": "box"}, "transform": [{"filter": "datum.p === 'ST'"}],
 "mark": {"type": "tick", "size": 27, "thickness": 3, "color": "black", "orient": "horizontal", "opacity": 1},
 "encoding": {
  "x": {"field": "r", "type": "nominal", "title": null, "scale": {"domain": ["Scotland", "England"], "paddingInner": 0.228, "paddingOuter": 0.0554, "align": 0.2745}},
  "xOffset": {"field": "c", "type": "nominal", "scale": {"domain": ["_0","_1","_2","_3","_4","_5","_6","Land Strand 1","_8","_9","_10","_11","CMIP5-13","_13","_14","GC3.05-PPE","_16","_17","RCM","_19","_20","CPM_orig","_22","_23","CPM_new"]}},
  "y": {"field": "med", "type": "quantitative", "scale": {"domain": [0, 7.6], "nice": false, "zero": false}, "axis": {"title": "2061-2080 Response (°C)", "values": [0,1,2,3,4,5,6,7], "format": "d"}}}},
{"data": {"name": "pts"}, "transform": [{"filter": "datum.p === 'ST'"}],
 "mark": {"type": "circle", "size": 210, "opacity": 1},
 "encoding": {
  "x": {"field": "r", "type": "nominal", "title": null, "scale": {"domain": ["Scotland", "England"], "paddingInner": 0.228, "paddingOuter": 0.0554, "align": 0.2745}},
  "xOffset": {"field": "c", "type": "nominal", "scale": {"domain": ["_0","_1","_2","_3","_4","_5","_6","Land Strand 1","_8","_9","_10","_11","CMIP5-13","_13","_14","GC3.05-PPE","_16","_17","RCM","_19","_20","CPM_orig","_22","_23","CPM_new"]}},
  "y": {"field": "v", "type": "quantitative", "scale": {"domain": [0, 7.6], "nice": false, "zero": false}, "axis": {"title": "2061-2080 Response (°C)", "values": [0,1,2,3,4,5,6,7], "format": "d"}},
  "color": {"field": "s", "type": "nominal",
   "scale": {"domain": ["Land Strand 1","CMIP5-13","GC3.05-PPE","RCM","CPM_orig","CPM_new","PPE-STD","RCM-STD","CPM-STD_orig","CPM-STD_new"," ","  "],
             "range": ["black","rgba(30,144,255,0.42)","rgba(255,165,0,0.45)","rgba(255,182,193,0.8)","rgba(0,255,0,0.35)","rgba(154,205,50,0.6)","rgba(255,0,0,0.92)","rgba(128,0,128,0.9)","rgba(0,128,0,0.9)","rgba(85,107,47,0.9)","rgba(0,0,0,0)","rgba(0,0,0,0)"]},
   "legend": {"title": null, "orient": "none", "legendX": 9, "legendY": 12, "columns": 2, "padding": 0, "labelFontSize": 17, "labelColor": "black", "labelFont": "DejaVu Sans", "symbolSize": 190, "rowPadding": 7.5, "columnPadding": 12, "labelOffset": 5,
     "symbolType": {"expr": "datum.value === 'Land Strand 1' ? 'stroke' : 'circle'"},
     "symbolStrokeColor": {"expr": "datum.value === 'Land Strand 1' ? 'black' : 'transparent'"},
     "symbolStrokeWidth": {"expr": "datum.value === 'Land Strand 1' ? 3 : 0"}}}}}
]
},
{
"width": 424, "height": 452,
"title": {"text": "Summer Precipitation", "offset": -4},
"view": {"stroke": null},
"layer": [
{"data": {"values": [{}]}, "mark": {"type": "rule", "strokeDash": [2.5, 4.5], "strokeWidth": 2, "color": "black"},
 "encoding": {"y": {"datum": 0, "type": "quantitative", "scale": {"domain": [-65, 20], "nice": false, "zero": false}, "axis": {"title": "2061-2080 Response (%)", "values": [-60,-40,-20,0,20], "format": "d"}}}},
{"data": {"values": [{}]}, "mark": {"type": "rule", "strokeWidth": 2, "color": "black"},
 "encoding": {"y": {"datum": 20, "type": "quantitative", "scale": {"domain": [-65, 20], "nice": false, "zero": false}, "axis": {"title": "2061-2080 Response (%)", "values": [-60,-40,-20,0,20], "format": "d"}}}},
{"data": {"name": "box"}, "transform": [{"filter": "datum.p === 'SP'"}],
 "mark": {"type": "rule", "strokeWidth": 3, "color": "black"},
 "encoding": {
  "x": {"field": "r", "type": "nominal", "title": null, "scale": {"domain": ["Scotland", "England"], "paddingInner": 0.228, "paddingOuter": 0.03576, "align": 0.4258}},
  "xOffset": {"field": "c", "type": "nominal", "scale": {"domain": ["_0","_1","_2","_3","_4","_5","_6","Land Strand 1","_8","_9","_10","_11","CMIP5-13","_13","_14","GC3.05-PPE","_16","_17","RCM","_19","_20","CPM_orig","_22","_23","CPM_new"]}},
  "y": {"field": "lo", "type": "quantitative", "scale": {"domain": [-65, 20], "nice": false, "zero": false}, "axis": {"title": "2061-2080 Response (%)", "values": [-60,-40,-20,0,20], "format": "d"}},
  "y2": {"field": "hi"}}},
{"data": {"name": "box"}, "transform": [{"filter": "datum.p === 'SP'"}],
 "mark": {"type": "bar", "width": 9, "fill": "white", "stroke": "black", "strokeWidth": 2.5},
 "encoding": {
  "x": {"field": "r", "type": "nominal", "title": null, "scale": {"domain": ["Scotland", "England"], "paddingInner": 0.228, "paddingOuter": 0.03576, "align": 0.4258}},
  "xOffset": {"field": "c", "type": "nominal", "scale": {"domain": ["_0","_1","_2","_3","_4","_5","_6","Land Strand 1","_8","_9","_10","_11","CMIP5-13","_13","_14","GC3.05-PPE","_16","_17","RCM","_19","_20","CPM_orig","_22","_23","CPM_new"]}},
  "y": {"field": "p10", "type": "quantitative", "scale": {"domain": [-65, 20], "nice": false, "zero": false}, "axis": {"title": "2061-2080 Response (%)", "values": [-60,-40,-20,0,20], "format": "d"}},
  "y2": {"field": "p90"}}},
{"data": {"name": "box"}, "transform": [{"filter": "datum.p === 'SP'"}],
 "mark": {"type": "bar", "width": 27, "fill": "white", "stroke": "black", "strokeWidth": 2.5},
 "encoding": {
  "x": {"field": "r", "type": "nominal", "title": null, "scale": {"domain": ["Scotland", "England"], "paddingInner": 0.228, "paddingOuter": 0.03576, "align": 0.4258}},
  "xOffset": {"field": "c", "type": "nominal", "scale": {"domain": ["_0","_1","_2","_3","_4","_5","_6","Land Strand 1","_8","_9","_10","_11","CMIP5-13","_13","_14","GC3.05-PPE","_16","_17","RCM","_19","_20","CPM_orig","_22","_23","CPM_new"]}},
  "y": {"field": "q1", "type": "quantitative", "scale": {"domain": [-65, 20], "nice": false, "zero": false}, "axis": {"title": "2061-2080 Response (%)", "values": [-60,-40,-20,0,20], "format": "d"}},
  "y2": {"field": "q3"}}},
{"data": {"name": "box"}, "transform": [{"filter": "datum.p === 'SP'"}],
 "mark": {"type": "tick", "size": 27, "thickness": 3, "color": "black", "orient": "horizontal", "opacity": 1},
 "encoding": {
  "x": {"field": "r", "type": "nominal", "title": null, "scale": {"domain": ["Scotland", "England"], "paddingInner": 0.228, "paddingOuter": 0.03576, "align": 0.4258}},
  "xOffset": {"field": "c", "type": "nominal", "scale": {"domain": ["_0","_1","_2","_3","_4","_5","_6","Land Strand 1","_8","_9","_10","_11","CMIP5-13","_13","_14","GC3.05-PPE","_16","_17","RCM","_19","_20","CPM_orig","_22","_23","CPM_new"]}},
  "y": {"field": "med", "type": "quantitative", "scale": {"domain": [-65, 20], "nice": false, "zero": false}, "axis": {"title": "2061-2080 Response (%)", "values": [-60,-40,-20,0,20], "format": "d"}}}},
{"data": {"name": "pts"}, "transform": [{"filter": "datum.p === 'SP'"}],
 "mark": {"type": "circle", "size": 210, "opacity": 1},
 "encoding": {
  "x": {"field": "r", "type": "nominal", "title": null, "scale": {"domain": ["Scotland", "England"], "paddingInner": 0.228, "paddingOuter": 0.03576, "align": 0.4258}},
  "xOffset": {"field": "c", "type": "nominal", "scale": {"domain": ["_0","_1","_2","_3","_4","_5","_6","Land Strand 1","_8","_9","_10","_11","CMIP5-13","_13","_14","GC3.05-PPE","_16","_17","RCM","_19","_20","CPM_orig","_22","_23","CPM_new"]}},
  "y": {"field": "v", "type": "quantitative", "scale": {"domain": [-65, 20], "nice": false, "zero": false}, "axis": {"title": "2061-2080 Response (%)", "values": [-60,-40,-20,0,20], "format": "d"}},
  "color": {"field": "s", "type": "nominal",
   "scale": {"domain": ["Land Strand 1","CMIP5-13","GC3.05-PPE","RCM","CPM_orig","CPM_new","PPE-STD","RCM-STD","CPM-STD_orig","CPM-STD_new"," ","  "],
             "range": ["black","rgba(30,144,255,0.42)","rgba(255,165,0,0.45)","rgba(255,182,193,0.8)","rgba(0,255,0,0.35)","rgba(154,205,50,0.6)","rgba(255,0,0,0.92)","rgba(128,0,128,0.9)","rgba(0,128,0,0.9)","rgba(85,107,47,0.9)","rgba(0,0,0,0)","rgba(0,0,0,0)"]},
   "legend": null}}}
]
},
{
"width": 433, "height": 452,
"title": {"text": "Winter Temperature", "offset": -4},
"view": {"stroke": "black", "strokeWidth": 2},
"layer": [
{"data": {"name": "box"}, "transform": [{"filter": "datum.p === 'WT'"}],
 "mark": {"type": "rule", "strokeWidth": 3, "color": "black"},
 "encoding": {
  "x": {"field": "r", "type": "nominal", "title": null, "scale": {"domain": ["Scotland", "England"], "paddingInner": 0.228, "paddingOuter": 0.0554, "align": 0.2745}},
  "xOffset": {"field": "c", "type": "nominal", "scale": {"domain": ["_0","_1","_2","_3","_4","_5","_6","Land Strand 1","_8","_9","_10","_11","CMIP5-13","_13","_14","GC3.05-PPE","_16","_17","RCM","_19","_20","CPM_orig","_22","_23","CPM_new"]}},
  "y": {"field": "lo", "type": "quantitative", "scale": {"domain": [0, 5], "nice": false, "zero": false}, "axis": {"title": "2061-2080 Response (°C)", "values": [0,1,2,3,4,5], "format": "d"}},
  "y2": {"field": "hi"}}},
{"data": {"name": "box"}, "transform": [{"filter": "datum.p === 'WT'"}],
 "mark": {"type": "bar", "width": 9, "fill": "white", "stroke": "black", "strokeWidth": 2.5},
 "encoding": {
  "x": {"field": "r", "type": "nominal", "title": null, "scale": {"domain": ["Scotland", "England"], "paddingInner": 0.228, "paddingOuter": 0.0554, "align": 0.2745}},
  "xOffset": {"field": "c", "type": "nominal", "scale": {"domain": ["_0","_1","_2","_3","_4","_5","_6","Land Strand 1","_8","_9","_10","_11","CMIP5-13","_13","_14","GC3.05-PPE","_16","_17","RCM","_19","_20","CPM_orig","_22","_23","CPM_new"]}},
  "y": {"field": "p10", "type": "quantitative", "scale": {"domain": [0, 5], "nice": false, "zero": false}, "axis": {"title": "2061-2080 Response (°C)", "values": [0,1,2,3,4,5], "format": "d"}},
  "y2": {"field": "p90"}}},
{"data": {"name": "box"}, "transform": [{"filter": "datum.p === 'WT'"}],
 "mark": {"type": "bar", "width": 27, "fill": "white", "stroke": "black", "strokeWidth": 2.5},
 "encoding": {
  "x": {"field": "r", "type": "nominal", "title": null, "scale": {"domain": ["Scotland", "England"], "paddingInner": 0.228, "paddingOuter": 0.0554, "align": 0.2745}},
  "xOffset": {"field": "c", "type": "nominal", "scale": {"domain": ["_0","_1","_2","_3","_4","_5","_6","Land Strand 1","_8","_9","_10","_11","CMIP5-13","_13","_14","GC3.05-PPE","_16","_17","RCM","_19","_20","CPM_orig","_22","_23","CPM_new"]}},
  "y": {"field": "q1", "type": "quantitative", "scale": {"domain": [0, 5], "nice": false, "zero": false}, "axis": {"title": "2061-2080 Response (°C)", "values": [0,1,2,3,4,5], "format": "d"}},
  "y2": {"field": "q3"}}},
{"data": {"name": "box"}, "transform": [{"filter": "datum.p === 'WT'"}],
 "mark": {"type": "tick", "size": 27, "thickness": 3, "color": "black", "orient": "horizontal", "opacity": 1},
 "encoding": {
  "x": {"field": "r", "type": "nominal", "title": null, "scale": {"domain": ["Scotland", "England"], "paddingInner": 0.228, "paddingOuter": 0.0554, "align": 0.2745}},
  "xOffset": {"field": "c", "type": "nominal", "scale": {"domain": ["_0","_1","_2","_3","_4","_5","_6","Land Strand 1","_8","_9","_10","_11","CMIP5-13","_13","_14","GC3.05-PPE","_16","_17","RCM","_19","_20","CPM_orig","_22","_23","CPM_new"]}},
  "y": {"field": "med", "type": "quantitative", "scale": {"domain": [0, 5], "nice": false, "zero": false}, "axis": {"title": "2061-2080 Response (°C)", "values": [0,1,2,3,4,5], "format": "d"}}}},
{"data": {"name": "pts"}, "transform": [{"filter": "datum.p === 'WT'"}],
 "mark": {"type": "circle", "size": 210, "opacity": 1},
 "encoding": {
  "x": {"field": "r", "type": "nominal", "title": null, "scale": {"domain": ["Scotland", "England"], "paddingInner": 0.228, "paddingOuter": 0.0554, "align": 0.2745}},
  "xOffset": {"field": "c", "type": "nominal", "scale": {"domain": ["_0","_1","_2","_3","_4","_5","_6","Land Strand 1","_8","_9","_10","_11","CMIP5-13","_13","_14","GC3.05-PPE","_16","_17","RCM","_19","_20","CPM_orig","_22","_23","CPM_new"]}},
  "y": {"field": "v", "type": "quantitative", "scale": {"domain": [0, 5], "nice": false, "zero": false}, "axis": {"title": "2061-2080 Response (°C)", "values": [0,1,2,3,4,5], "format": "d"}},
  "color": {"field": "s", "type": "nominal",
   "scale": {"domain": ["Land Strand 1","CMIP5-13","GC3.05-PPE","RCM","CPM_orig","CPM_new","PPE-STD","RCM-STD","CPM-STD_orig","CPM-STD_new"," ","  "],
             "range": ["black","rgba(30,144,255,0.42)","rgba(255,165,0,0.45)","rgba(255,182,193,0.8)","rgba(0,255,0,0.35)","rgba(154,205,50,0.6)","rgba(255,0,0,0.92)","rgba(128,0,128,0.9)","rgba(0,128,0,0.9)","rgba(85,107,47,0.9)","rgba(0,0,0,0)","rgba(0,0,0,0)"]},
   "legend": null}}}
]
},
{
"width": 424, "height": 452,
"title": {"text": "Winter Precipitation", "offset": 7},
"view": {"stroke": null},
"layer": [
{"data": {"values": [{}]}, "mark": {"type": "rule", "strokeDash": [2.5, 4.5], "strokeWidth": 2, "color": "black"},
 "encoding": {"y": {"datum": 0, "type": "quantitative", "scale": {"domain": [-10, 55], "nice": false, "zero": false}, "axis": {"title": "2061-2080 Response (%)", "values": [-10,0,10,20,30,40,50], "format": "d"}}}},
{"data": {"values": [{}]}, "mark": {"type": "rule", "strokeWidth": 2, "color": "black"},
 "encoding": {"y": {"datum": 55, "type": "quantitative", "scale": {"domain": [-10, 55], "nice": false, "zero": false}, "axis": {"title": "2061-2080 Response (%)", "values": [-10,0,10,20,30,40,50], "format": "d"}}}},
{"data": {"name": "box"}, "transform": [{"filter": "datum.p === 'WP'"}],
 "mark": {"type": "rule", "strokeWidth": 3, "color": "black"},
 "encoding": {
  "x": {"field": "r", "type": "nominal", "title": null, "scale": {"domain": ["Scotland", "England"], "paddingInner": 0.228, "paddingOuter": 0.03576, "align": 0.4258}},
  "xOffset": {"field": "c", "type": "nominal", "scale": {"domain": ["_0","_1","_2","_3","_4","_5","_6","Land Strand 1","_8","_9","_10","_11","CMIP5-13","_13","_14","GC3.05-PPE","_16","_17","RCM","_19","_20","CPM_orig","_22","_23","CPM_new"]}},
  "y": {"field": "lo", "type": "quantitative", "scale": {"domain": [-10, 55], "nice": false, "zero": false}, "axis": {"title": "2061-2080 Response (%)", "values": [-10,0,10,20,30,40,50], "format": "d"}},
  "y2": {"field": "hi"}}},
{"data": {"name": "box"}, "transform": [{"filter": "datum.p === 'WP'"}],
 "mark": {"type": "bar", "width": 9, "fill": "white", "stroke": "black", "strokeWidth": 2.5},
 "encoding": {
  "x": {"field": "r", "type": "nominal", "title": null, "scale": {"domain": ["Scotland", "England"], "paddingInner": 0.228, "paddingOuter": 0.03576, "align": 0.4258}},
  "xOffset": {"field": "c", "type": "nominal", "scale": {"domain": ["_0","_1","_2","_3","_4","_5","_6","Land Strand 1","_8","_9","_10","_11","CMIP5-13","_13","_14","GC3.05-PPE","_16","_17","RCM","_19","_20","CPM_orig","_22","_23","CPM_new"]}},
  "y": {"field": "p10", "type": "quantitative", "scale": {"domain": [-10, 55], "nice": false, "zero": false}, "axis": {"title": "2061-2080 Response (%)", "values": [-10,0,10,20,30,40,50], "format": "d"}},
  "y2": {"field": "p90"}}},
{"data": {"name": "box"}, "transform": [{"filter": "datum.p === 'WP'"}],
 "mark": {"type": "bar", "width": 27, "fill": "white", "stroke": "black", "strokeWidth": 2.5},
 "encoding": {
  "x": {"field": "r", "type": "nominal", "title": null, "scale": {"domain": ["Scotland", "England"], "paddingInner": 0.228, "paddingOuter": 0.03576, "align": 0.4258}},
  "xOffset": {"field": "c", "type": "nominal", "scale": {"domain": ["_0","_1","_2","_3","_4","_5","_6","Land Strand 1","_8","_9","_10","_11","CMIP5-13","_13","_14","GC3.05-PPE","_16","_17","RCM","_19","_20","CPM_orig","_22","_23","CPM_new"]}},
  "y": {"field": "q1", "type": "quantitative", "scale": {"domain": [-10, 55], "nice": false, "zero": false}, "axis": {"title": "2061-2080 Response (%)", "values": [-10,0,10,20,30,40,50], "format": "d"}},
  "y2": {"field": "q3"}}},
{"data": {"name": "box"}, "transform": [{"filter": "datum.p === 'WP'"}],
 "mark": {"type": "tick", "size": 27, "thickness": 3, "color": "black", "orient": "horizontal", "opacity": 1},
 "encoding": {
  "x": {"field": "r", "type": "nominal", "title": null, "scale": {"domain": ["Scotland", "England"], "paddingInner": 0.228, "paddingOuter": 0.03576, "align": 0.4258}},
  "xOffset": {"field": "c", "type": "nominal", "scale": {"domain": ["_0","_1","_2","_3","_4","_5","_6","Land Strand 1","_8","_9","_10","_11","CMIP5-13","_13","_14","GC3.05-PPE","_16","_17","RCM","_19","_20","CPM_orig","_22","_23","CPM_new"]}},
  "y": {"field": "med", "type": "quantitative", "scale": {"domain": [-10, 55], "nice": false, "zero": false}, "axis": {"title": "2061-2080 Response (%)", "values": [-10,0,10,20,30,40,50], "format": "d"}}}},
{"data": {"name": "pts"}, "transform": [{"filter": "datum.p === 'WP'"}],
 "mark": {"type": "circle", "size": 210, "opacity": 1},
 "encoding": {
  "x": {"field": "r", "type": "nominal", "title": null, "scale": {"domain": ["Scotland", "England"], "paddingInner": 0.228, "paddingOuter": 0.03576, "align": 0.4258}},
  "xOffset": {"field": "c", "type": "nominal", "scale": {"domain": ["_0","_1","_2","_3","_4","_5","_6","Land Strand 1","_8","_9","_10","_11","CMIP5-13","_13","_14","GC3.05-PPE","_16","_17","RCM","_19","_20","CPM_orig","_22","_23","CPM_new"]}},
  "y": {"field": "v", "type": "quantitative", "scale": {"domain": [-10, 55], "nice": false, "zero": false}, "axis": {"title": "2061-2080 Response (%)", "values": [-10,0,10,20,30,40,50], "format": "d"}},
  "color": {"field": "s", "type": "nominal",
   "scale": {"domain": ["Land Strand 1","CMIP5-13","GC3.05-PPE","RCM","CPM_orig","CPM_new","PPE-STD","RCM-STD","CPM-STD_orig","CPM-STD_new"," ","  "],
             "range": ["black","rgba(30,144,255,0.42)","rgba(255,165,0,0.45)","rgba(255,182,193,0.8)","rgba(0,255,0,0.35)","rgba(154,205,50,0.6)","rgba(255,0,0,0.92)","rgba(128,0,128,0.9)","rgba(0,128,0,0.9)","rgba(85,107,47,0.9)","rgba(0,0,0,0)","rgba(0,0,0,0)"]},
   "legend": null}}}
]
}
],
"config": {
 "font": "DejaVu Sans",
 "view": {"stroke": "black", "strokeWidth": 2},
 "title": {"fontSize": 30.5, "fontWeight": "normal", "color": "black", "anchor": "middle", "frame": "group", "font": "DejaVu Sans"},
 "axis": {"labelFontSize": 25.5, "titleFontSize": 24, "labelColor": "black", "titleColor": "black", "titleFontWeight": "normal", "tickSize": 8.5, "tickWidth": 2, "tickColor": "black", "domainColor": "black", "domainWidth": 2, "grid": false, "labelPadding": 5, "titlePadding": 18, "labelFont": "DejaVu Sans", "titleFont": "DejaVu Sans"},
 "axisX": {"labelAngle": 0, "labelPadding": 7.5}
}
}
